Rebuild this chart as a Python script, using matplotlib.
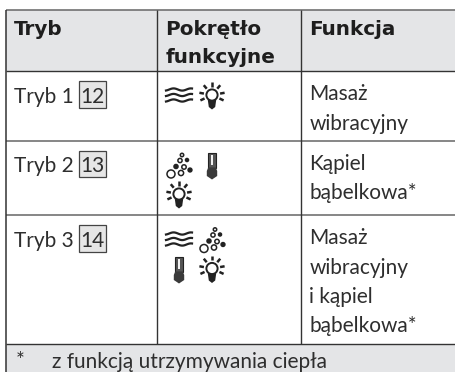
import matplotlib
matplotlib.use("Agg")
import matplotlib.pyplot as plt
import numpy as np
from matplotlib.patches import Rectangle, Circle, Polygon

headers = ["Tryb", "Pokrętło\nfunkcyjne", "Funkcja"]
modes = ["Tryb 1", "Tryb 2", "Tryb 3"]
mode_refs = ["12", "13", "14"]
functions = ["Masaż\nwibracyjny", "Kąpiel\nbąbelkowa*", "Masaż\nwibracyjny\ni kąpiel\nbąbelkowa*"]
footnote_mark = "*"
footnote = "z funkcją utrzymywania ciepła"
# icon kinds and cell slots (column, line) per row
row_icons = [
    [("wave", 0, 0), ("bulb", 1, 0)],
    [("bubbles", 0, 0), ("torch", 1, 0), ("bulb", 0, 1)],
    [("wave", 0, 0), ("bubbles", 1, 0), ("torch", 0, 1), ("bulb", 1, 1)],
]

W, H = 456, 372
col_x = [6, 157.5, 301, 456]
row_y = [9.5, 71, 140.5, 215, 344, 372]
GREY = "#e4e5e7"
LINE = "#333333"
INK = "#222222"
BODY = dict(family="Lato", fontsize=15, color="#2e2e2e", va="baseline")
HEAD = dict(family="DejaVu Sans", fontsize=14.4, color="#1e1e1e", fontweight="bold", va="baseline")

fig = plt.figure(figsize=(W / 100, H / 100), dpi=100, facecolor="white")
ax = fig.add_axes([0, 0, 1, 1])
ax.set_xlim(0, W)
ax.set_ylim(H, 0)
ax.axis("off")

ax.add_patch(Rectangle((col_x[0], row_y[0]), W - col_x[0], row_y[1] - row_y[0], fc=GREY, ec="none"))
ax.add_patch(Rectangle((col_x[0], row_y[4]), W - col_x[0], row_y[5] - row_y[4], fc=GREY, ec="none"))

for y in row_y[:-1]:
    dark = y in (row_y[1], row_y[4])
    ax.plot([col_x[0], W], [y, y], color=LINE if dark else "#666666", lw=1.0 if dark else 1.1, solid_capstyle="butt")
ax.plot([col_x[0]] * 2, [row_y[0], H], color=LINE, lw=1.1, solid_capstyle="butt")
for x in col_x[1:3]:
    ax.plot([x, x], [row_y[0], row_y[4]], color=LINE, lw=1.0, solid_capstyle="butt")


def wave(cx, cy):
    t = np.linspace(-13, 13, 30)
    for dy in (-5.5, 0, 5.5):
        ax.plot(cx + t, cy - 1.5 + dy + 1.1 * np.sin(t / 13 * np.pi * 1.5 + 0.4), color=INK, lw=1.6)


def bulb(cx, cy):
    ax.add_patch(Circle((cx, cy - 1.5), 5.6, fc="white", ec=INK, lw=1.4))
    ax.add_patch(Polygon([[cx - 4.2, cy + 3.5], [cx + 4.2, cy + 3.5], [cx + 3.2, cy + 10.5], [cx, cy + 13], [cx - 3.2, cy + 10.5]], fc=INK, ec="none"))
    for ang in (-90, -50, -130, -10, -170, 25, 155):
        a = np.radians(ang)
        ax.plot([cx + 8.2 * np.cos(a), cx + 12.8 * np.cos(a)],
                [cy - 1.5 + 8.2 * np.sin(a), cy - 1.5 + 12.8 * np.sin(a)], color=INK, lw=1.8, solid_capstyle="butt")


def bubbles(cx, cy):
    for dx, dy, r, filled in [(-8, 8, 4.0, False), (2, 7, 2.6, False), (-3, 0.5, 2.0, True), (5, 1, 2.2, False),
                              (11, 4, 1.9, True), (1, -5.5, 2.1, False), (8, -6, 1.5, True), (3, -11, 1.7, False)]:
        ax.add_patch(Circle((cx + dx, cy + dy), r, fc=INK if filled else "white", ec=INK, lw=1.1))


def torch(cx, cy):
    ax.add_patch(Rectangle((cx - 3.8, cy - 13.5), 7.6, 15, fc="#555555", ec=INK, lw=0.8))
    ax.add_patch(Rectangle((cx - 1.2, cy - 11), 2.6, 10, fc="#f2f2f2", ec="none"))
    ax.add_patch(Polygon([[cx - 3.8, cy + 1.5], [cx + 3.8, cy + 1.5], [cx + 5.2, cy + 5], [cx + 5.2, cy + 10],
                          [cx, cy + 13.5], [cx - 5.2, cy + 10], [cx - 5.2, cy + 5]], fc="#3a3a3a", ec="none"))


ICONS = {"wave": wave, "bulb": bulb, "bubbles": bubbles, "torch": torch}

# Header
ax.text(14, 35, headers[0], **HEAD)
ax.text(165.5, 35, headers[1].split("\n")[0], **HEAD)
ax.text(165.5, 63, headers[1].split("\n")[1], **HEAD)
ax.text(309.5, 35, headers[2], **HEAD)

for i, (mode, ref, func) in enumerate(zip(modes, mode_refs, functions)):
    top = row_y[i + 1]
    ax.text(14, top + 32, mode, **BODY)
    ax.add_patch(Rectangle((79, top + 10), 27, 26.5, fc="#e6e6e6", ec="#444444", lw=0.9))
    ax.text(92.5, top + 32, ref, ha="center", **BODY)
    for j, line in enumerate(func.split("\n")):
        ax.text(309.5, top + 29.3 + j * 29.4, line, **BODY)
    for kind, c, ln in row_icons[i]:
        ICONS[kind](179 + c * 33, top + 25.5 + ln * 29.5)

ax.text(15.5, 367, footnote_mark, **BODY)
ax.text(52, 368, footnote, **BODY)

fig.savefig("out.png", dpi=100, facecolor="white")
